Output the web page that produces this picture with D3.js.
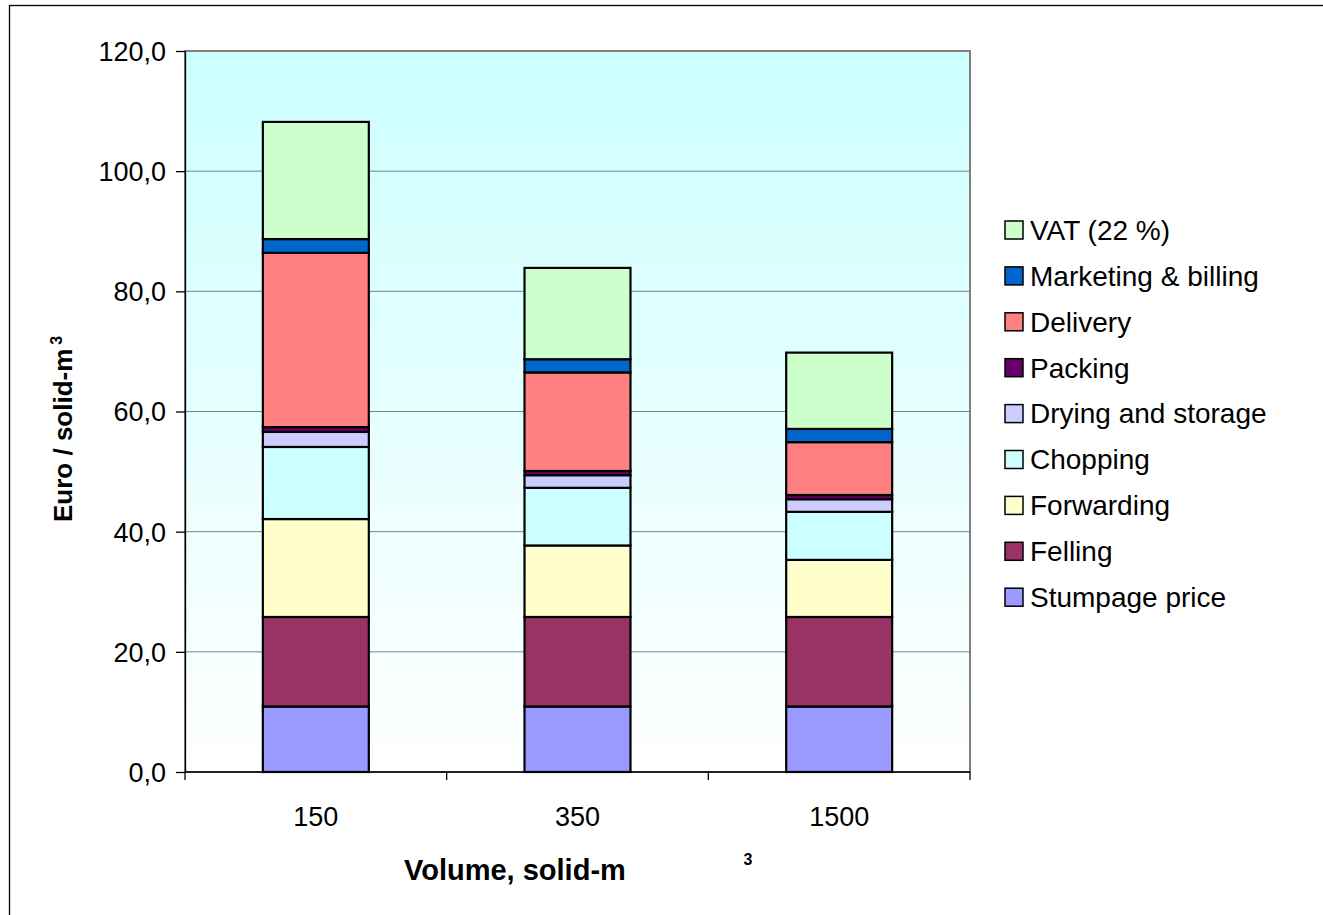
<!DOCTYPE html>
<html>
<head>
  <meta charset="utf-8">
  <title>Cost structure</title>
<style>
  body { margin: 0; background: #fff; }
  text { font-family: Arial, "Liberation Sans", sans-serif; fill: #000; }
  .grid line { stroke: #808080; stroke-width: 1; }
  .axis path, .axis line { stroke: #000; stroke-width: 1.3; }
  .axis text { font-size: 27px; }
  .title { font-weight: bold; }
  .legend text { font-size: 28px; }
</style>
</head>
<body>
<svg width="1323" height="915"></svg>
<script src="https://cdnjs.cloudflare.com/ajax/libs/d3/7.8.5/d3.min.js"></script>
<script>

// categories and series (Euro / solid-m3), bottom to top
var volumes = ["150", "350", "1500"];
var series = ["Stumpage price", "Felling", "Forwarding", "Chopping",
              "Drying and storage", "Packing", "Delivery",
              "Marketing & billing", "VAT (22 %)"];
var stumpage   = [10.9, 10.9, 10.9];
var felling    = [14.9, 14.9, 14.9];
var forwarding = [16.3, 11.9, 9.5];
var chopping   = [12.0, 9.6, 8.0];
var drying     = [2.5, 2.1, 2.1];
var packing    = [0.8, 0.7, 0.7];
var delivery   = [29.0, 16.4, 8.8];
var marketing  = [2.3, 2.2, 2.2];
var vat        = [19.5, 15.2, 12.7];
var colors = ["#9999ff", "#993366", "#ffffcc", "#ccffff", "#ccccff",
              "#660066", "#ff8080", "#0066cc", "#ccffcc"];
var yTicks = [0, 20, 40, 60, 80, 100, 120];

var values = [stumpage, felling, forwarding, chopping, drying, packing, delivery, marketing, vat];
var rows = volumes.map(function(v, i) {
  var r = { volume: v };
  series.forEach(function(s, j) { r[s] = values[j][i]; });
  return r;
});

var svg = d3.select("svg");
var plot = { left: 185, top: 51, right: 970, bottom: 772 };

// outer chart border
svg.append("rect")
    .attr("x", 9.5).attr("y", 5.5)
    .attr("width", 1330).attr("height", 930)
    .attr("fill", "#fff").attr("stroke", "#000").attr("stroke-width", 1.3);

var x = d3.scaleBand()
    .domain(volumes)
    .range([plot.left, plot.right])
    .paddingInner(0.595)
    .paddingOuter(0.2975);
var y = d3.scaleLinear()
    .domain([0, 120])
    .range([plot.bottom, plot.top]);

// plot background
var grad = svg.append("defs").append("linearGradient")
    .attr("id", "bg").attr("x1", 0).attr("y1", 0).attr("x2", 0).attr("y2", 1);
grad.append("stop").attr("offset", "0%").attr("stop-color", "#ccffff");
grad.append("stop").attr("offset", "100%").attr("stop-color", "#ffffff");
svg.append("rect")
    .attr("x", plot.left).attr("y", plot.top)
    .attr("width", plot.right - plot.left).attr("height", plot.bottom - plot.top)
    .attr("fill", "url(#bg)");

// gridlines
svg.append("g").attr("class", "grid")
  .selectAll("line")
  .data(yTicks.slice(1))
  .enter().append("line")
    .attr("x1", plot.left).attr("x2", plot.right)
    .attr("y1", function(d) { return y(d); })
    .attr("y2", function(d) { return y(d); });

svg.append("rect")
    .attr("x", plot.left).attr("y", plot.top)
    .attr("width", plot.right - plot.left).attr("height", plot.bottom - plot.top)
    .attr("fill", "none").attr("stroke", "#808080").attr("stroke-width", 2);

// stacked bars
var stack = d3.stack().keys(series);
var layers = stack(rows);
svg.append("g")
  .selectAll("g")
  .data(layers)
  .enter().append("g")
    .attr("fill", function(d, i) { return colors[i]; })
  .selectAll("rect")
  .data(function(d) { return d; })
  .enter().append("rect")
    .attr("x", function(d) { return x(d.data.volume); })
    .attr("width", x.bandwidth())
    .attr("y", function(d) { return y(d[1]); })
    .attr("height", function(d) { return y(d[0]) - y(d[1]); })
    .attr("stroke", "#000")
    .attr("stroke-width", 2.2);

// y axis
var fmt = function(d) { return d3.format(".1f")(d).replace(".", ","); };
svg.append("g").attr("class", "axis")
    .attr("transform", "translate(" + plot.left + ",0)")
    .call(d3.axisLeft(y).tickValues(yTicks).tickFormat(fmt).tickSizeInner(9).tickSizeOuter(0).tickPadding(10))
    .selectAll("text").attr("dy", "0.35em");

// x axis with ticks between categories
var xAxis = svg.append("g").attr("class", "axis")
    .attr("transform", "translate(0," + plot.bottom + ")");
xAxis.append("line")
    .attr("x1", plot.left).attr("x2", plot.right);
var bounds = d3.range(volumes.length + 1).map(function(i) { return plot.left + i * (plot.right - plot.left) / volumes.length; });
xAxis.selectAll(".tk")
  .data(bounds)
  .enter().append("line")
    .attr("x1", function(d) { return d; }).attr("x2", function(d) { return d; })
    .attr("y1", 0).attr("y2", 8);
xAxis.selectAll(".lbl")
  .data(volumes)
  .enter().append("text")
    .attr("x", function(d) { return x(d) + x.bandwidth() / 2; })
    .attr("y", 54)
    .attr("text-anchor", "middle")
    .text(function(d) { return d; });

// axis titles
svg.append("text").attr("class", "title")
    .attr("x", 404).attr("y", 880)
    .style("font-size", "29px")
    .text("Volume, solid-m");
svg.append("text").attr("class", "title")
    .attr("x", 748).attr("y", 865)
    .attr("text-anchor", "middle")
    .style("font-size", "16px")
    .text("3");

var yt = svg.append("text").attr("class", "title")
    .attr("transform", "translate(72,522) rotate(-90)")
    .style("font-size", "26px");
yt.append("tspan").text("Euro / solid-m");
yt.append("tspan").attr("dy", "-0.6em").attr("dx", "4").style("font-size", "16px").text("3");

// legend
var legend = svg.append("g").attr("class", "legend");
var items = series.slice().reverse();
var colorsTop = colors.slice().reverse();
var row = legend.selectAll("g")
  .data(items)
  .enter().append("g")
    .attr("transform", function(d, i) { return "translate(1005," + (230 + i * 45.9) + ")"; });
row.append("rect")
    .attr("x", 0).attr("y", -9)
    .attr("width", 18).attr("height", 18)
    .attr("fill", function(d, i) { return colorsTop[i]; })
    .attr("stroke", "#000").attr("stroke-width", 1.5);
row.append("text")
    .attr("x", 25).attr("dy", "0.35em")
    .text(function(d) { return d; });

</script>
</body>
</html>
